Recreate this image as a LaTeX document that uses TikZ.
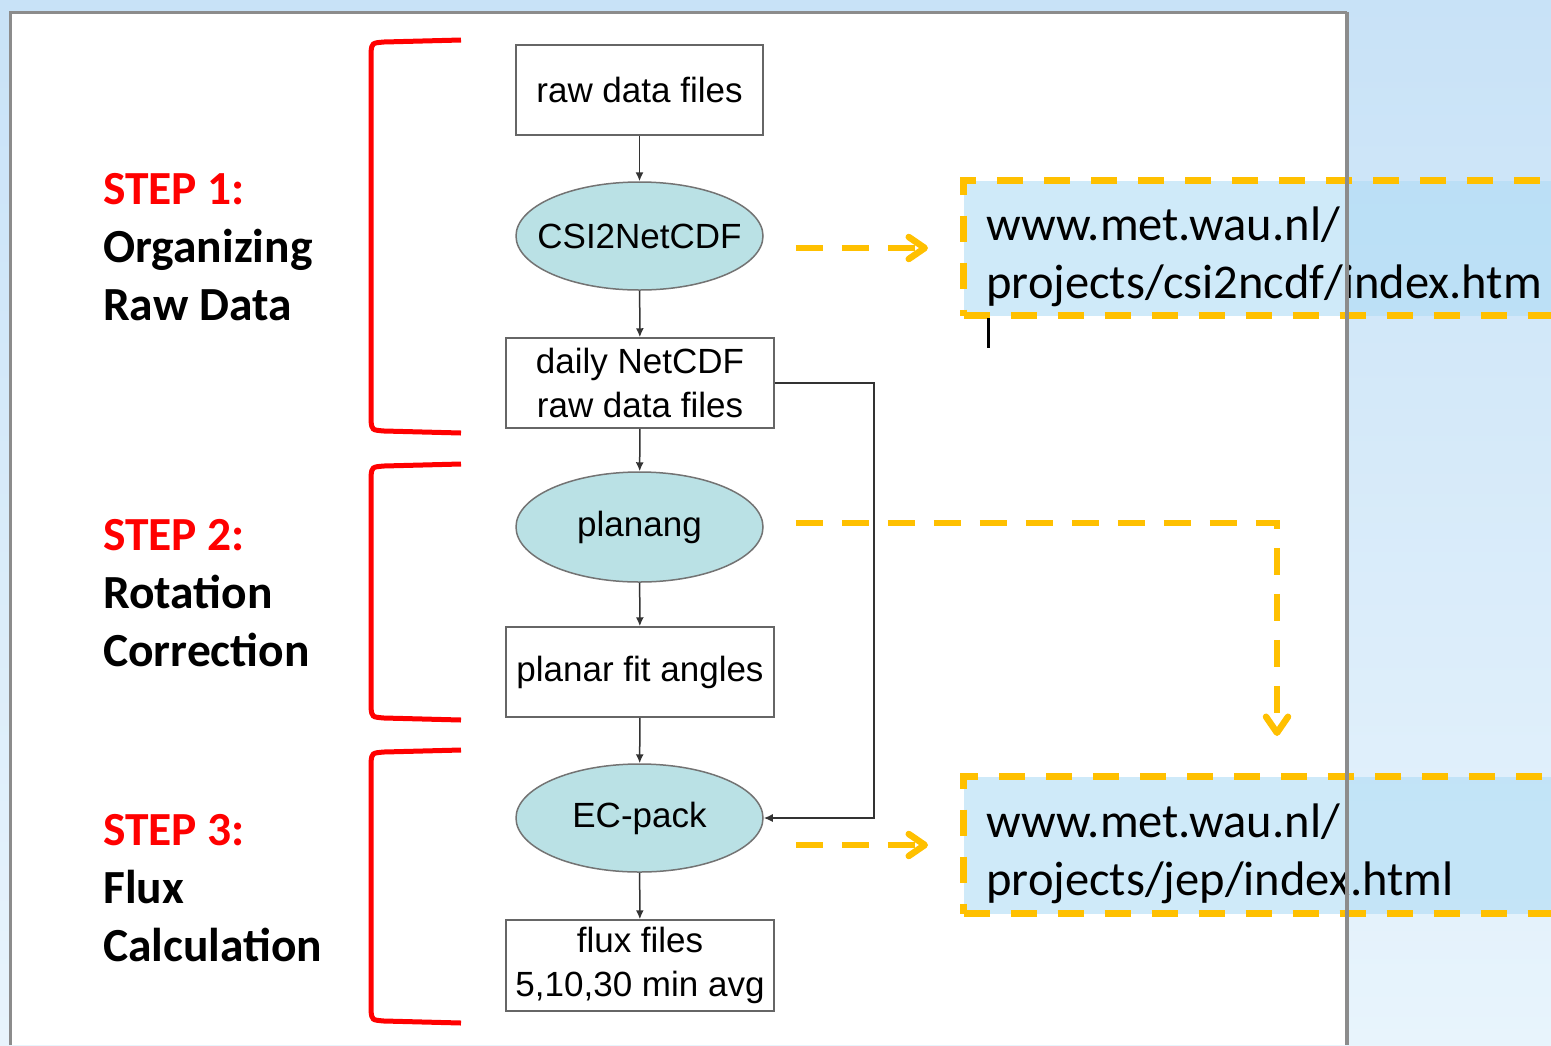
\documentclass[tikz,border=0pt]{standalone}
\usepackage{fontspec}
\setmainfont{Carlito}
\newfontfamily\chartfont{Liberation Sans}
\usetikzlibrary{arrows.meta,shapes.geometric}
\definecolor{stepred}{RGB}{255,0,0}
\definecolor{urlorange}{RGB}{255,192,0}
\definecolor{proctea}{RGB}{186,225,229}
\definecolor{skytop}{RGB}{200,226,247}
\definecolor{skybottom}{RGB}{232,244,252}
\definecolor{urlfill}{RGB}{175,220,245}
\tikzset{
  filebox/.style={draw=black!60, line width=1.5pt, fill=white, minimum width=268pt, minimum height=90pt,
    inner sep=0pt, align=center, font=\chartfont\fontsize{35}{44}\selectfont},
  procell/.style={ellipse, draw=black!55, line width=1.5pt, fill=proctea, minimum width=247pt, minimum height=108pt,
    inner sep=0pt, font=\chartfont\fontsize{35}{44}\selectfont},
  flow/.style={draw=black!80, line width=1.5pt, -{Latex[length=9pt,width=8pt]}},
  urlarrow/.style={draw=urlorange, line width=6.5pt, dash pattern=on 27pt off 19pt,
    -{Straight Barb[round,length=16pt,width=22pt]}},
  urlbox/.style={draw=urlorange, line width=7pt, dash pattern=on 26pt off 21pt, fill=urlfill, fill opacity=0.6,
    text opacity=1, anchor=north west, minimum width=620pt, minimum height=135pt, inner xsep=23pt,
    text width=574pt, text height=52pt, align=left, font=\fontsize{48.5}{58}\selectfont},
  steplabel/.style={anchor=base west, inner sep=0pt, align=left, font=\bfseries\fontsize{47.5}{58}\selectfont},
  bracket/.style={draw=stepred, line width=5pt}
}
\begin{document}
\begin{tikzpicture}[x=1pt, y=-1pt]
    \useasboundingbox (0,0) rectangle (1551,1045);
    \shade[top color=skytop, bottom color=skybottom] (0,0) rectangle (1551,1045);
    \fill[white] (10,12) rectangle (1347,1045);
    \draw[black!45, line width=3pt] (10,1045) -- (10,12) -- (1347,12);

    % left hand step labels (anchored on the last line)
    \node[steplabel] (step1) at (103,320) {\textcolor{stepred}{STEP 1:}\\Organizing\\Raw Data};
    \node[steplabel] (step2) at (103,666) {\textcolor{stepred}{STEP 2:}\\Rotation\\Correction};
    \node[steplabel] (step3) at (103,961) {\textcolor{stepred}{STEP 3:}\\Flux\\Calculation};
    \foreach \top/\bot in {40/433, 464/720, 750/1023}
        \draw[bracket] (461,\top) -- (384,\top+2) .. controls (372,\top+3) .. (371,\top+12)
            -- (371,\bot-12) .. controls (372,\bot-3) .. (384,\bot-2) -- (461,\bot);

    % flow chart
    \node[filebox, minimum width=247pt] (raw) at (639.5,90) {raw data files};
    \node[procell] (csi) at (639.5,236) {\makebox[120pt]{CSI2NetCDF}};
    \node[filebox] (daily) at (640,383) {daily NetCDF\\raw data files};
    \node[procell, minimum height=110pt] (planang) at (639.5,527) {planang};
    \node[filebox] (angles) at (640,672) {planar fit angles};
    \node[procell] (ecpack) at (639.5,818) {EC-pack};
    \node[filebox, minimum height=91pt] (flux) at (640,965.5) {flux files\\5,10,30 min avg};
    \draw[flow] (raw) -- (csi);
    \draw[flow] (csi) -- (daily);
    \draw[flow] (daily) -- (planang);
    \draw[flow] (planang) -- (angles);
    \draw[flow] (angles) -- (ecpack);
    \draw[flow] (ecpack) -- (flux);
    \draw[flow] (daily.east) -- ++(99,0) |- (ecpack.east);

    % web links
    \node[urlbox] (csiurl) at (960,177) {www.met.wau.nl/\\projects/csi2ncdf/index.htm};
    \node[urlbox, minimum height=137pt] (jepurl) at (960,773) {www.met.wau.nl/\\projects/jep/index.html};
    \draw[black!45, line width=4pt] (1347,12) -- (1347,1045);
    \draw[black, line width=3pt] (988,318) -- (988,348); % cursor
    \coordinate (jeptip) at (1277,736);
    \draw[urlarrow] ([xshift=32pt]csi.east |- csiurl.west) -- ([xshift=-32pt]csiurl.west);
    \draw[urlarrow] ([xshift=32pt,yshift=4pt]planang.east) -| (jeptip);
    \draw[urlarrow] ([xshift=32pt]ecpack.east |- jepurl.west) -- ([xshift=-32pt]jepurl.west);
\end{tikzpicture}
\end{document}
